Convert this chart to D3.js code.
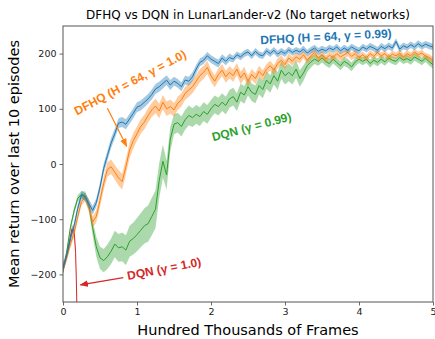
<html>
<head>
<meta charset="utf-8">
<title>DFHQ vs DQN</title>
<script src="https://d3js.org/d3.v7.min.js"></script>
<style>
body { margin: 0; background: #fff; }
text { font-family: "DejaVu Sans", sans-serif; }
.ann { font-family: "Liberation Sans", Arial, sans-serif; font-weight: bold; }
</style>
</head>
<body>
<svg width="435" height="339"></svg>
<script>
// x positions (hundred thousands of frames), every 0.05
var frames = d3.range(0, 101).map(i => i / 20);

var dfhq99 = [-190,-165,-135,-112,-80,-56,-60,-72,-84,-70,
  -42,-8,15,38,55,74,76,72,82,92,
  103,106,112,118,126,136,140,146,152,143,
  150,146,140,152,150,158,172,184,188,196,
  190,186,182,192,186,193,190,198,194,200,
  203,196,204,198,196,205,200,206,199,204,
  200,207,202,206,203,208,201,206,210,204,
  208,205,210,207,212,205,210,206,212,208,
  205,212,208,213,210,206,213,209,214,210,
  222,208,214,211,216,212,218,213,217,214,212];
var dfhq99Std = [6,6,7,7,7,7,7,8,8,8,
  9,9,9,9,9,9,9,9,9,9,
  9,9,9,9,9,9,9,9,9,9,
  8,8,8,8,8,8,8,7,7,7,
  7,7,7,7,7,7,6,6,6,6,
  6,6,6,6,6,6,6,6,6,6,
  6,6,6,6,6,6,6,6,6,6,
  6,6,6,6,6,6,6,6,6,6,
  6,6,6,6,6,6,6,6,6,6,
  6,6,6,6,6,6,6,6,6,6,6];

var dfhq10 = [-192,-170,-145,-125,-95,-68,-60,-78,-105,-95,
  -66,-35,-10,-5,-15,-25,-32,-5,25,42,
  55,68,76,88,98,105,96,112,100,104,
  98,110,116,128,134,140,150,160,166,175,
  160,150,162,170,158,166,160,172,156,165,
  150,162,155,168,160,172,178,170,182,188,
  180,192,186,194,190,198,188,196,202,192,
  198,190,197,193,200,194,198,202,195,200,
  193,198,192,200,195,202,196,200,193,199,
  196,201,194,200,196,203,198,201,195,193,188];
var dfhq10Std = [6,6,7,7,7,7,8,9,10,11,
  12,12,13,13,13,14,14,14,14,14,
  13,13,13,13,13,13,13,13,13,13,
  12,12,12,12,12,12,12,12,12,12,
  11,11,11,11,11,11,11,11,11,11,
  10,10,10,10,10,9,9,9,9,9,
  8,8,8,8,8,7,7,7,7,7,
  7,7,7,7,7,7,7,7,7,7,
  6,6,6,6,6,6,6,6,6,6,
  6,6,6,6,6,6,6,6,6,6,6];

var dqn99 = [-195,-160,-115,-85,-62,-55,-58,-75,-115,-150,
  -170,-175,-168,-158,-145,-152,-150,-156,-140,-135,
  -128,-120,-112,-108,-95,-82,-30,5,-20,45,
  72,75,68,80,88,84,90,86,95,90,
  100,108,104,112,106,118,122,112,130,125,
  140,130,126,142,135,152,145,160,150,170,
  160,166,160,172,155,165,178,185,190,186,
  192,186,182,190,184,178,186,182,176,185,
  190,186,190,182,188,184,190,185,192,188,
  186,193,188,191,187,194,190,186,192,185,180];
var dqn99Std = [6,6,6,6,6,6,8,10,14,18,
  20,21,22,23,24,25,26,27,28,29,
  30,31,32,33,34,34,32,30,26,22,
  18,18,18,18,18,17,17,17,17,17,
  16,16,16,16,16,16,16,16,16,16,
  16,16,16,16,16,16,16,16,16,16,
  16,16,16,16,15,14,12,10,9,8,
  8,8,8,8,8,8,8,8,8,8,
  7,7,7,7,7,7,7,7,7,7,
  7,7,7,7,7,7,7,7,7,7,7];

var dqn10Frames = [0,0.03,0.06,0.09,0.12,0.15,0.17,0.18,0.19,0.2];
var dqn10 = [-185,-175,-160,-140,-118,-120,-160,-210,-270,-320];
var dqn10Std = [8,8,8,7,7,7,7,7,7,7];

var xTicks = [0,1,2,3,4,5];
var yTicks = [-200,-100,0,100,200];

var series = [
  {name:"dqn10", x:dqn10Frames, y:dqn10, s:dqn10Std, color:"#d62728"},
  {name:"dqn99", x:frames, y:dqn99, s:dqn99Std, color:"#2ca02c"},
  {name:"dfhq10", x:frames, y:dfhq10, s:dfhq10Std, color:"#ff7f0e"},
  {name:"dfhq99", x:frames, y:dfhq99, s:dfhq99Std, color:"#1f77b4"}
];

var svg = d3.select("svg"),
    margin = {top: 26, right: 2, bottom: 37, left: 63},
    width = +svg.attr("width") - margin.left - margin.right,
    height = +svg.attr("height") - margin.top - margin.bottom,
    g = svg.append("g").attr("transform", `translate(${margin.left},${margin.top})`);

var x = d3.scaleLinear().domain([0, 5]).range([0, width]);
var y = d3.scaleLinear().domain([-250, 250]).range([height, 0]);

svg.append("defs").append("clipPath").attr("id", "clip")
  .append("rect").attr("width", width).attr("height", height);

var plot = g.append("g").attr("clip-path", "url(#clip)");

series.forEach(function(d) {
  var pts = d.x.map((v, i) => ({x: v, y: d.y[i], s: d.s[i]}));
  plot.append("path")
    .datum(pts)
    .attr("fill", d.color)
    .attr("opacity", 0.4)
    .attr("d", d3.area().x(p => x(p.x)).y0(p => y(p.y - p.s)).y1(p => y(p.y + p.s)));
  plot.append("path")
    .datum(pts)
    .attr("fill", "none")
    .attr("stroke", d.color)
    .attr("stroke-width", 1)
    .attr("d", d3.line().x(p => x(p.x)).y(p => y(p.y)));
});

// axes
var fmt = v => String(v).replace("-", "\u2212");
var xAxis = g.append("g")
  .attr("transform", `translate(0,${height})`)
  .call(d3.axisBottom(x).tickValues(xTicks).tickSize(3.5).tickPadding(3).tickFormat(fmt));
var yAxis = g.append("g")
  .call(d3.axisLeft(y).tickValues(yTicks).tickSize(3.5).tickPadding(3).tickFormat(fmt));
[xAxis, yAxis].forEach(function(a) {
  a.select(".domain").remove();
  a.selectAll("line").attr("stroke", "#444").attr("stroke-width", 0.8);
  a.selectAll("text").attr("fill", "#222").style("font-size", "9.5px").style("font-family", "DejaVu Sans");
});

g.append("rect")
  .attr("width", width).attr("height", height)
  .attr("fill", "none").attr("stroke", "#555").attr("stroke-width", 1);

// labels
svg.append("text")
  .attr("x", margin.left + width / 2).attr("y", 19)
  .attr("text-anchor", "middle")
  .style("font-size", "12px")
  .text("DFHQ vs DQN in LunarLander-v2 (No target networks)");

svg.append("text")
  .attr("x", margin.left + width / 2).attr("y", 335)
  .attr("text-anchor", "middle")
  .style("font-size", "14.5px")
  .text("Hundred Thousands of Frames");

svg.append("text")
  .attr("transform", `translate(19,${margin.top + height / 2}) rotate(-90)`)
  .attr("text-anchor", "middle")
  .style("font-size", "14.5px")
  .text("Mean return over last 10 episodes");

// annotations
var defs = svg.select("defs");
["#ff7f0e", "#d62728"].forEach(function(c, i) {
  defs.append("marker")
    .attr("id", "head" + i)
    .attr("viewBox", "0 0 10 10").attr("refX", 9).attr("refY", 5)
    .attr("markerWidth", 7).attr("markerHeight", 7)
    .attr("orient", "auto")
    .append("path").attr("d", "M0,1L10,5L0,9Z").attr("fill", c);
});

var notes = [
  {t:"DFHQ (H = 64, \u03b3 = 0.99)", x:2.67, y:217, r:-3, c:"#1f77b4"},
  {t:"DFHQ (H = 64, \u03b3 = 1.0)", x:0.19, y:88, r:-28, c:"#ff7f0e"},
  {t:"DQN (\u03b3 = 0.99)", x:2.03, y:41, r:-15, c:"#2ca02c"},
  {t:"DQN (\u03b3 = 1.0)", x:0.88, y:-210, r:-11, c:"#d62728"}
];
g.selectAll(".ann").data(notes).enter().append("text")
  .attr("class", "ann")
  .attr("transform", d => `translate(${x(d.x)},${y(d.y)}) rotate(${d.r})`)
  .attr("fill", d => d.c)
  .style("font-size", "12px")
  .text(d => d.t);

var arrows = [
  {x1:0.6, y1:101, x2:0.86, y2:32, c:"#ff7f0e", m:0},
  {x1:0.815, y1:-206, x2:0.235, y2:-219, c:"#d62728", m:1}
];
g.selectAll(".arr").data(arrows).enter().append("line")
  .attr("x1", d => x(d.x1)).attr("y1", d => y(d.y1))
  .attr("x2", d => x(d.x2)).attr("y2", d => y(d.y2))
  .attr("stroke", d => d.c).attr("stroke-width", 1.2)
  .attr("marker-end", d => `url(#head${d.m})`);
</script>
</body>
</html>
